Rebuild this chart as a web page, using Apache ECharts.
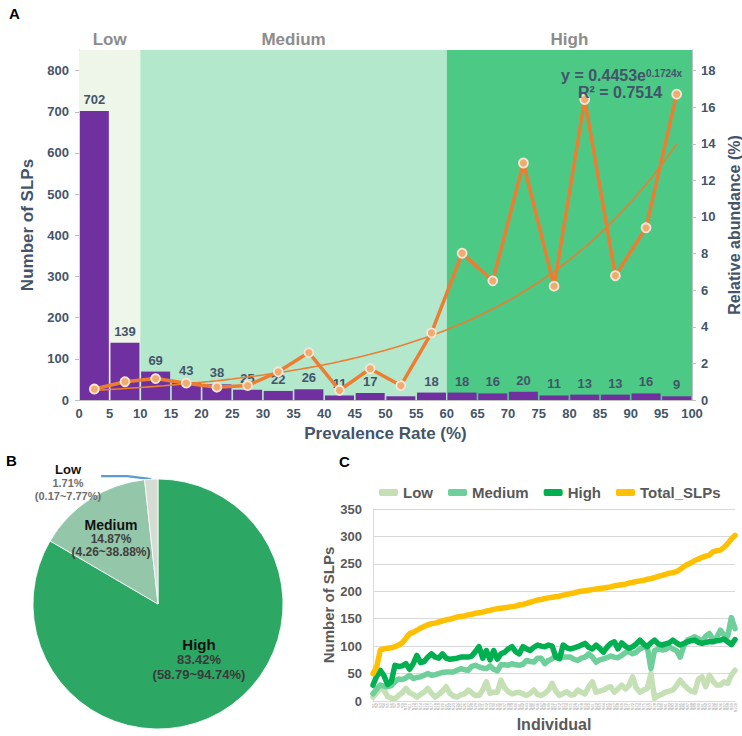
<!DOCTYPE html>
<html>
<head>
<meta charset="utf-8">
<script src="https://cdn.jsdelivr.net/npm/echarts@6/dist/echarts.min.js"></script>
<style>
html,body{margin:0;padding:0;background:#fff;overflow:hidden;}
#c{width:742px;height:736px;}
</style>
</head>
<body>
<div id="c"></div>
<script>
// ---------- Panel A data ----------
const binCenters = [2.5,7.5,12.5,17.5,22.5,27.5,32.5,37.5,42.5,47.5,52.5,57.5,62.5,67.5,72.5,77.5,82.5,87.5,92.5,97.5];
const slpCounts = [702,139,69,43,38,25,22,26,11,17,9,18,18,16,20,11,13,13,16,9];
const relAbundance = [0.60,1.00,1.17,0.92,0.70,0.79,1.54,2.59,0.53,1.71,0.79,3.67,8.02,6.51,12.95,6.22,16.42,6.79,9.41,16.71];
const trendA = 0.4453;   // from the displayed fit y = 0.4453e^(0.1724x)
const trendB = 0.1724;
const trendR2 = 0.7514;
const zoneNames = ['Low','Medium','High'];
const zoneBounds = [[0,10],[10,60],[60,100]];

// ---------- Panel B data ----------
const pieNames = ['High','Medium','Low'];
const pieValues = [83.42,14.87,1.71];
const pieRanges = ['58.79~94.74%','4.26~38.88%','0.17~7.77%'];

// ---------- Panel C data ----------
const lowSLPs = [7,15,23,20,8,5,4,10,15,23,15,12,7,12,16,23,14,7,12,18,26,14,9,7,11,13,20,15,10,10,20,35,14,16,16,38,24,17,13,15,16,13,10,14,20,12,10,14,20,32,18,10,14,17,11,12,20,16,13,26,35,16,18,20,24,26,16,22,29,22,28,44,24,16,20,23,50,5,10,12,16,18,20,28,38,30,23,18,16,40,44,26,47,36,29,29,35,32,47,56];
const mediumSLPs = [13,22,29,27,26,28,35,40,39,42,47,41,43,44,47,50,47,48,50,52,53,53,53,56,59,57,56,63,65,62,60,59,64,58,55,66,66,65,68,66,65,67,74,72,71,78,78,68,74,77,82,82,80,80,80,76,74,78,80,86,80,71,75,77,79,82,80,79,83,88,90,86,89,95,98,99,59,92,95,93,94,99,95,92,80,100,111,114,117,113,110,118,123,112,116,129,120,118,152,132];
const highSLPs = [29,45,56,46,30,35,65,63,64,68,58,68,83,70,72,80,86,80,78,86,78,76,77,78,80,80,80,82,90,99,78,92,75,92,76,86,89,95,99,90,86,99,95,92,98,102,100,99,102,100,80,77,102,97,95,97,99,102,105,98,95,102,96,89,98,105,108,95,106,100,96,99,104,111,104,99,106,111,104,102,104,106,111,106,102,105,108,110,111,107,105,107,108,108,110,111,113,108,103,112];
const totalSLPs = [50,62,93,95,96,97,99,102,106,114,123,125,129,133,136,139,141,142,144,146,148,149,151,153,154,155,157,158,160,161,162,164,165,167,168,169,170,171,172,173,175,176,178,180,182,184,185,187,188,189,190,191,193,194,196,197,199,200,201,202,203,204,205,206,207,208,210,211,212,213,215,216,218,219,220,222,223,225,227,229,231,233,234,236,240,245,249,252,256,259,262,264,266,272,274,275,280,287,295,302];
const individuals = totalSLPs.map((_, i) => 'S' + (i + 1));
const seriesCNames = ['Low','Medium','High','Total_SLPs'];

// ---------- styles ----------
const FONT = '"Liberation Sans", Arial, Helvetica, sans-serif';
const AX = '#44546a';
const GC = '#595959';
const zoneColors = ['#eef5e9','#b3e8cd','#4bc985'];
const pieColors = ['#2ca864','#94c6a9','#d6dbd3'];
const cColors = ['#c5e0b4','#6fcf9b','#00b050','#ffc000'];

const trendData = [];
for (let k = 1; k <= 20.0001; k += 0.25) {
  trendData.push([5 * k - 2.5, trendA * Math.exp(trendB * k)]);
}

const chart = echarts.init(document.getElementById('c'), null, {renderer: 'svg'});

const labelPos = {
  High:   {x: 199, y: 659},
  Medium: {x: 111, y: 538},
  Low:    {x: 68,  y: 472}
};

const option = {
  animation: false,
  textStyle: {fontFamily: FONT},
  grid: [
    {left: 79, right: 50, top: 50, bottom: 336, outerBoundsMode: 'none', containLabel: false},
    {left: 373, right: 7, top: 509, bottom: 35, outerBoundsMode: 'none', containLabel: false}
  ],
  legend: {
    data: seriesCNames,
    left: 374, top: 480,
    icon: 'roundRect',
    itemWidth: 19, itemHeight: 7, itemGap: 15,
    textStyle: {fontSize: 15, fontWeight: 'bold', color: GC, fontFamily: FONT}
  },
  xAxis: [
    {
      gridIndex: 0, type: 'value', min: 0, max: 100, interval: 5,
      name: 'Prevalence Rate (%)', nameLocation: 'middle', nameGap: 25,
      nameTextStyle: {fontSize: 17, fontWeight: 'bold', color: AX},
      axisLine: {lineStyle: {color: '#bfbfbf'}},
      axisTick: {show: false},
      splitLine: {show: false},
      axisLabel: {fontSize: 13, fontWeight: 'bold', color: AX, margin: 7}
    },
    {
      gridIndex: 1, type: 'category', data: individuals, boundaryGap: false,
      name: 'Individual', nameLocation: 'middle', nameGap: 14,
      nameTextStyle: {fontSize: 16, fontWeight: 'bold', color: GC},
      axisLine: {lineStyle: {color: '#d9d9d9'}},
      axisTick: {show: false},
      axisLabel: {interval: 0, rotate: 90, fontSize: 4, color: '#9a9a9a', margin: 2}
    }
  ],
  yAxis: [
    {
      gridIndex: 0, type: 'value', min: 0, max: 850, interval: 100,
      name: 'Number of SLPs', nameLocation: 'middle', nameGap: 40,
      nameTextStyle: {fontSize: 17, fontWeight: 'bold', color: AX},
      axisLine: {show: true, lineStyle: {color: '#bfbfbf'}},
      axisTick: {show: true, length: 4, lineStyle: {color: '#bfbfbf'}},
      splitLine: {show: false},
      axisLabel: {fontSize: 13, fontWeight: 'bold', color: AX, showMaxLabel: false, margin: 10}
    },
    {
      gridIndex: 0, type: 'value', position: 'right', min: 0, max: 19.125, interval: 2,
      name: 'Relative abundance (%)', nameLocation: 'middle', nameGap: 21, nameRotate: 90,
      nameTextStyle: {fontSize: 16, fontWeight: 'bold', color: AX},
      axisLine: {show: true, lineStyle: {color: '#bfbfbf'}},
      axisTick: {show: true, length: 4, lineStyle: {color: '#bfbfbf'}},
      splitLine: {show: false},
      axisLabel: {fontSize: 13, fontWeight: 'bold', color: AX, showMaxLabel: false, margin: 9}
    },
    {
      gridIndex: 1, type: 'value', min: 0, max: 350, interval: 50,
      name: 'Number of SLPs', nameLocation: 'middle', nameGap: 32,
      nameTextStyle: {fontSize: 15, fontWeight: 'bold', color: GC},
      axisLine: {show: true, lineStyle: {color: '#d9d9d9'}},
      axisTick: {show: false},
      splitLine: {lineStyle: {color: '#d9d9d9'}},
      axisLabel: {fontSize: 13, fontWeight: 'bold', color: GC, margin: 11}
    }
  ],
  graphic: [
    {type: 'text', left: 9, top: 6, style: {text: 'A', font: 'bold 15px ' + FONT, fill: '#000'}},
    {type: 'text', left: 6, top: 453, style: {text: 'B', font: 'bold 15px ' + FONT, fill: '#000'}},
    {type: 'text', left: 339, top: 454, style: {text: 'C', font: 'bold 15px ' + FONT, fill: '#000'}},
    {type: 'text', x: 646, y: 75, z: 50, style: {
      text: 'y = ' + trendA + 'e', font: 'bold 16px ' + FONT, fill: AX,
      textAlign: 'right', textVerticalAlign: 'middle'
    }},
    {type: 'text', x: 646, y: 68, z: 50, style: {
      text: trendB + 'x', font: 'bold 10px ' + FONT, fill: AX,
      textAlign: 'left', textVerticalAlign: 'top'
    }},
    {type: 'text', x: 620, y: 92, z: 50, style: {
      text: 'R² = ' + trendR2, font: 'bold 16px ' + FONT, fill: AX,
      textAlign: 'center', textVerticalAlign: 'middle'
    }}
  ],
  series: [
    {
      name: 'zones', type: 'line', xAxisIndex: 0, yAxisIndex: 0, data: [], z: 1, silent: true,
      markArea: {
        silent: true,
        label: {show: true, position: 'top', distance: 2, fontSize: 17, fontWeight: 'bold', color: '#8c8c8c', fontFamily: FONT},
        data: zoneBounds.map((b, i) => [
          {name: zoneNames[i], xAxis: b[0], itemStyle: {color: zoneColors[i]}},
          {xAxis: b[1]}
        ])
      }
    },
    {
      name: 'SLPs', type: 'bar', xAxisIndex: 0, yAxisIndex: 0, z: 2,
      barWidth: 29,
      data: binCenters.map((c, i) => [c, slpCounts[i]]),
      itemStyle: {color: '#7030a0'},
      label: {show: true, position: 'top', distance: 5, fontSize: 13, fontWeight: 'bold', color: AX, fontFamily: FONT}
    },
    {
      name: 'Trend', type: 'line', xAxisIndex: 0, yAxisIndex: 1, z: 3,
      data: trendData, showSymbol: false, symbol: 'none', smooth: false,
      lineStyle: {color: '#ed7d31', width: 1.6}
    },
    {
      name: 'Relative abundance', type: 'line', xAxisIndex: 0, yAxisIndex: 1, z: 4,
      data: binCenters.map((c, i) => [c, relAbundance[i]]),
      symbol: 'circle', symbolSize: 9,
      lineStyle: {color: '#ed7d31', width: 3.5},
      itemStyle: {color: '#f0ac6e', borderColor: '#f6e6da', borderWidth: 1.8}
    },
    {
      name: 'Prevalence pie', type: 'pie', center: [158, 604], radius: 125,
      startAngle: 90, clockwise: true, z: 5,
      data: pieNames.map((n, i) => ({
        name: n, value: pieValues[i],
        itemStyle: {color: pieColors[i], borderColor: '#ffffff', borderWidth: 0.8},
        label: {position: n === 'Low' ? 'outside' : 'inside'},
        labelLine: {show: n === 'Low', length: 12, length2: 26, lineStyle: {color: '#5b9bd5', width: 2.2}}
      })),
      label: {
        show: true,
        align: 'center',
        formatter: p => {
          const k = p.name === 'High' ? 'h' : (p.name === 'Medium' ? 'm' : 'l');
          const head = k === 'l' ? '{sp| }\n' : '';
          return head + '{' + k + 'n|' + p.name + '}\n{' + k + 'p|' + pieValues[p.dataIndex].toFixed(2) + '%}\n{' + k + 'p|(' + pieRanges[p.dataIndex] + ')}';
        },
        rich: {
          sp: {fontSize: 2, lineHeight: 20, align: 'center'},
          hn: {fontSize: 15, fontWeight: 'bold', color: '#111', lineHeight: 16, align: 'center', fontFamily: FONT},
          hp: {fontSize: 13, fontWeight: 'bold', color: '#3a3a3a', lineHeight: 15, align: 'center', fontFamily: FONT},
          mn: {fontSize: 14, fontWeight: 'bold', color: '#111', lineHeight: 14, align: 'center', fontFamily: FONT},
          mp: {fontSize: 12, fontWeight: 'bold', color: '#404040', lineHeight: 13, align: 'center', fontFamily: FONT},
          ln: {fontSize: 13, fontWeight: 'bold', color: '#111', lineHeight: 15, align: 'center', fontFamily: FONT},
          lp: {fontSize: 11, fontWeight: 'bold', color: '#6e6e6e', lineHeight: 12.5, align: 'center', fontFamily: FONT}
        }
      },
      labelLayout: p => {
        const pos = labelPos[pieNames[p.dataIndex]];
        return {x: pos.x, y: pos.y, align: 'center', verticalAlign: 'middle'};
      }
    }
  ].concat(seriesCNames.map((n, i) => ({
    name: n, type: 'line', xAxisIndex: 1, yAxisIndex: 2, z: 6 + i,
    data: [lowSLPs, mediumSLPs, highSLPs, totalSLPs][i],
    showSymbol: false, symbol: 'none',
    itemStyle: {color: cColors[i]},
    lineStyle: {color: cColors[i], width: 5.5, cap: 'round', join: 'round'}
  })))
};

chart.setOption(option);
</script>
</body>
</html>
